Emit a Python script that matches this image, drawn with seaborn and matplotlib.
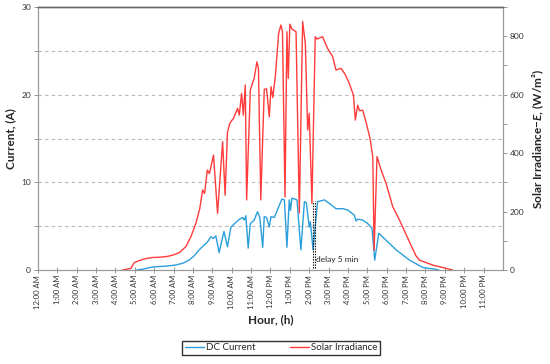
import pandas as pd
import matplotlib
matplotlib.use('Agg')
import matplotlib.pyplot as plt
from matplotlib.ticker import MultipleLocator
import seaborn as sns

# hour of day (decimal) and readings
irr_hour = [4.35, 4.8, 4.96, 5.2, 5.6, 5.9, 6.3, 6.7, 7.0, 7.3, 7.63, 7.9, 8.15, 8.35,
            8.5, 8.6, 8.74, 8.85, 8.95, 9.06, 9.27, 9.53, 9.66, 9.78, 9.9, 10.1, 10.3,
            10.39, 10.51, 10.6, 10.7, 10.77, 10.96, 11.16, 11.3, 11.38, 11.5, 11.68,
            11.8, 11.94, 12.03, 12.12, 12.25, 12.42, 12.54, 12.62, 12.75, 12.85, 12.92,
            13.0, 13.1, 13.32, 13.49, 13.66, 13.8, 13.92, 14.0, 14.14, 14.31, 14.4,
            14.69, 14.95, 15.21, 15.38, 15.64, 15.85, 16.07, 16.28, 16.38, 16.5, 16.6,
            16.76, 16.93, 17.14, 17.28, 17.35, 17.5, 17.71, 17.97, 18.31, 18.66, 19.17,
            19.5, 19.69, 20.38, 21.07, 21.4]
irr_val = [0, 6, 25, 32, 40, 43, 44, 47, 52, 60, 80, 115, 160, 210,
           274, 262, 342, 330, 360, 393, 194, 439, 256, 470, 502, 520, 553,
           530, 604, 530, 633, 240, 616, 656, 712, 690, 240, 618,
           620, 524, 627, 590, 661, 809, 838, 815, 250, 815, 656,
           841, 825, 815, 195, 850, 775, 479, 536, 228, 798, 790,
           798, 758, 730, 684, 690, 670, 638, 599, 513, 564, 545,
           547, 507, 450, 388, 68, 388, 342, 296, 217, 171, 97,
           50, 34, 17, 6, 0]

cur_hour = [5.05, 5.4, 5.8, 6.08, 6.6, 7.1, 7.5, 7.8, 8.05, 8.32, 8.55, 8.75, 8.92,
            9.05, 9.18, 9.35, 9.6, 9.78, 9.96, 10.1, 10.25, 10.4, 10.56, 10.65, 10.73,
            10.85, 10.96, 11.16, 11.33, 11.45, 11.6, 11.68, 11.8, 11.94, 12.03, 12.2,
            12.42, 12.59, 12.72, 12.85, 12.97, 13.03, 13.11, 13.37, 13.57, 13.75, 13.85,
            14.0, 14.06, 14.2, 14.43, 14.78, 15.04, 15.38, 15.73, 15.99, 16.33, 16.42,
            16.5, 16.76, 17.02, 17.24, 17.38, 17.59, 17.97, 18.49, 19.17, 19.86, 20.55,
            20.7]
cur_val = [0, 0.1, 0.3, 0.38, 0.45, 0.57, 0.8, 1.14, 1.6, 2.3, 2.8, 3.2, 3.8,
           3.6, 3.9, 2.0, 4.4, 2.66, 4.9, 5.2, 5.5, 5.8, 6.0, 5.7, 6.2,
           2.5, 5.3, 5.7, 6.65, 6.0, 2.6, 6.1, 6.0, 4.9, 6.1, 6.0,
           7.2, 8.1, 8.0, 2.6, 8.0, 6.8, 8.2, 8.0, 2.3, 7.8, 7.7,
           4.9, 5.5, 2.3, 7.8, 8.0, 7.6, 7.0, 7.0, 6.84, 6.27, 5.6,
           5.8, 5.7, 5.3, 4.75, 1.14, 4.2, 3.4, 2.3, 1.14, 0.3, 0.08,
           0]

hour_labels = ["12:00 AM"] + [f"{h}:00 AM" for h in range(1, 12)] + \
              ["12:00 PM"] + [f"{h}:00 PM" for h in range(1, 12)]

irr_df = pd.DataFrame({"hour": irr_hour, "irr": irr_val})
cur_df = pd.DataFrame({"hour": cur_hour, "cur": cur_val})

sns.set_theme(style="white")
plt.rcParams['font.family'] = ['Lato', 'DejaVu Sans']
plt.rcParams['mathtext.fontset'] = 'custom'
plt.rcParams['mathtext.bfit'] = 'Lato:bold:italic'

fig = plt.figure(figsize=(5.5, 3.64), dpi=100)
ax = fig.add_axes([0.069, 0.258, 0.8455, 0.723])
ax2 = ax.twinx()

blue = '#2b9fdc'
red = '#ff3b3b'

sns.lineplot(data=cur_df, x="hour", y="cur", ax=ax, color=blue, lw=1.0,
             label="DC Current", legend=False)
sns.lineplot(data=irr_df, x="hour", y="irr", ax=ax2, color=red, lw=1.0,
             label="Solar Irradiance", legend=False)

# delay annotation
ax.vlines([14.17, 14.29], 0.25, 7.9, colors='black', linestyles=(0, (1.2, 1.2)), lw=0.8)
ax.text(14.36, 1.25, "delay 5 min", fontsize=6, va='center', ha='left', color='#222222')

ax.set_xlim(0, 24)
ax.set_ylim(0, 30)
ax2.set_ylim(0, 900)
ax.set_xticks(range(24))
ax.set_xticklabels(hour_labels, rotation=90, fontsize=5.5, color='#333333')
ax.yaxis.set_major_locator(MultipleLocator(10))
ax.yaxis.set_minor_locator(MultipleLocator(5))
ax2.yaxis.set_major_locator(MultipleLocator(200))
ax2.yaxis.set_minor_locator(MultipleLocator(100))

for y in [5, 10, 15, 20, 25]:
    ax.axhline(y, color='#b8b8b8', lw=0.8, ls=(0, (3, 3)), zorder=0)

ax.tick_params(axis='y', which='both', direction='out', length=3, width=0.6,
               color='#888888', labelsize=6, labelcolor='#333333', pad=2, left=True)
ax.tick_params(axis='x', direction='inout', length=5, width=0.6, color='#888888',
               pad=1, bottom=True)
ax2.tick_params(axis='y', which='both', direction='out', length=3, width=0.6,
                color='#888888', labelsize=6, labelcolor='#333333', pad=2, right=True)

for a in (ax, ax2):
    for s in ['left', 'bottom', 'right']:
        a.spines[s].set_color('#999999')
        a.spines[s].set_linewidth(0.8)
    a.spines['top'].set_color('#666666')
    a.spines['top'].set_linewidth(1.0)

ax.set_xlabel("Hour, (h)", fontsize=8.5, fontweight='bold', labelpad=4)
ax.set_ylabel("Current, (A)", fontsize=8.5, fontweight='bold', labelpad=4)
ax2.set_ylabel("Solar Irradiance\u2212$\\mathbfit{E}$, (W/m\u00b2)", fontsize=8.5,
               fontweight='bold', labelpad=4)

h1, l1 = ax.get_legend_handles_labels()
h2, l2 = ax2.get_legend_handles_labels()
leg = fig.legend(h1 + h2, l1 + l2, loc='center', bbox_to_anchor=(0.511, 0.044),
                 ncol=2, fontsize=7, frameon=True, fancybox=False, shadow=False,
                 handlelength=2.0, handletextpad=0.2, columnspacing=3.5,
                 borderpad=0.25, borderaxespad=0)
leg.get_frame().set_edgecolor('black')
leg.get_frame().set_linewidth(1.0)

fig.savefig("out.png", dpi=100)
